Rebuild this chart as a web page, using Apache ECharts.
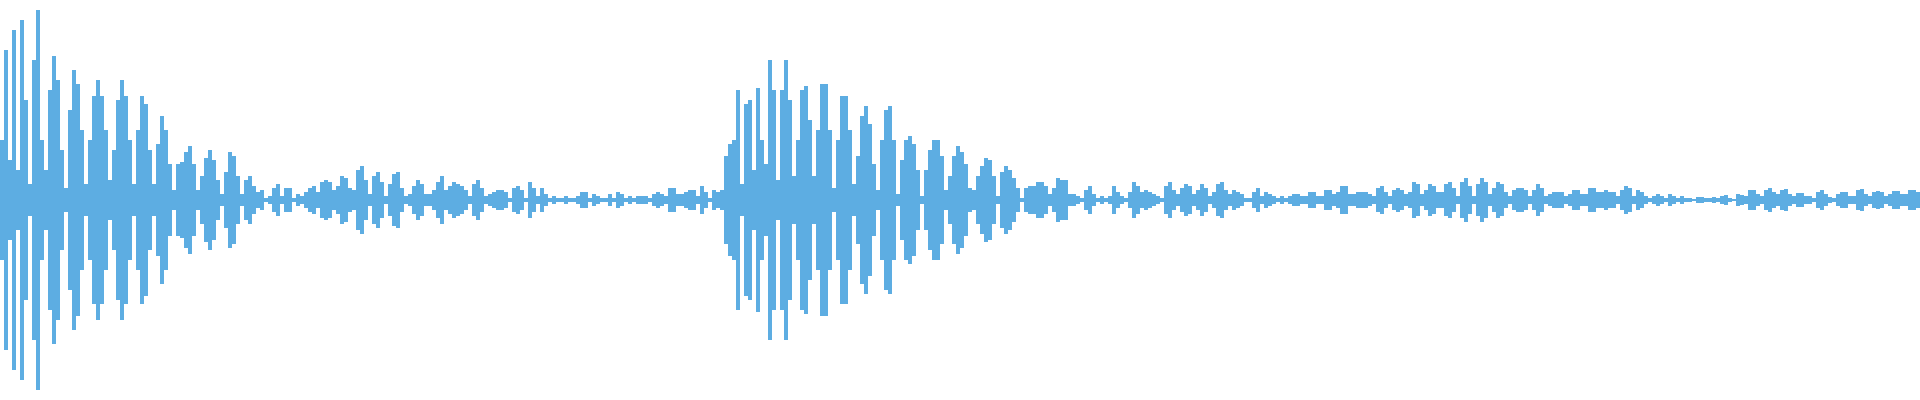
<!DOCTYPE html>
<html>
<head>
<meta charset="utf-8">
<script src="https://cdn.jsdelivr.net/npm/echarts@6/dist/echarts.min.js"></script>
<style>html,body{margin:0;padding:0;background:#fff;}#main{width:1920px;height:400px;}</style>
</head>
<body>
<div id="main"></div>
<script>
// Waveform amplitude (percent of half-height), one value per sample
const ampA = [30,75,20,85,15,90,50,8,70,95,30,15,55,72,60,25,6,45,65,58,35,8,30,52,60,52,35,10,25,50,60,52,30,8,35,52,48,25,8,28,42,35,18,5,18,19,24,27,18,5,12,21,25,20,10,3,14,24,22,12];
const ampB = [3,10,12,7,4,5,1,2,6,8,2,6,6,1,3,2,4,6,7,4,9,10,9,5,7,12,11,6,5,15,17,10,3,12,14,9,2,8,13,14,6,2,3,7,10,8,3,3,5,9,12,5,7,9,8,7,5,2,8,10];
const ampC = [6,2,3,4,5,5,4,1,6,7,5,1,9,6,2,6,3,1,2,1,1,2,1,1,2,4,4,1,3,2,1,1,3,1,4,3,1,2,1,2,2,2,1,3,4,3,2,6,6,3,3,4,5,5,2,7,4,1,5,4];
const ampD = [5,22,28,30,55,8,48,50,15,56,30,18,70,55,10,55,70,50,12,30,55,57,40,12,35,58,58,35,6,30,52,52,35,8,22,42,47,38,18,5,30,45,47,30,3,20,30,32,28,15,2,15,25,30,30,22,5,12,22,27];
const ampE = [24,18,6,5,12,17,21,20,12,2,14,17,15,11,6,1,6,7,7,9,9,7,3,6,11,10,10,3,3,2,1,5,7,3,1,2,1,2,7,4,2,1,4,9,7,4,5,4,3,2,1,7,9,5,3,6,8,7,3,5];
const ampF = [8,6,2,4,8,9,5,3,5,4,3,1,1,4,6,2,4,3,2,1,2,1,2,3,3,2,2,4,4,2,2,5,5,3,4,7,7,3,3,4,4,4,3,2,6,7,4,2,5,6,5,3,4,9,8,3,5,8,7,4];
const ampG = [4,8,9,6,2,9,11,7,2,8,11,9,3,6,9,8,4,2,5,6,6,5,2,5,8,6,2,3,4,4,4,2,3,5,5,3,3,6,6,4,4,5,4,4,2,5,7,6,2,5,4,2,1,2,3,2,1,3,2,1];
const ampH = [2,1,1,0.5,1.5,1.5,1,1,1.5,1,2,2.5,1,0.5,3,2.5,2,5,5,3,2,5,6,4,3,5,5.5,3,2,3.5,3.5,2,2,1,4,5,3,1.5,1,3,4,4,2,2,5,5.5,3,2,4,4.5,4,2,3,4.5,4.5,3,3,5,5,4];

const amplitude = [].concat(ampA, ampB, ampC, ampD, ampE, ampF, ampG, ampH);
const samples = amplitude.map((_, i) => String(i));
const upper = amplitude;
const lower = amplitude.map(v => -v);

const color = '#5dade2';
const chart = echarts.init(document.getElementById('main'));
chart.setOption({
  animation: false,
  grid: { left: 0, right: 0, top: 0, bottom: 0 },
  xAxis: { type: 'category', data: samples, show: false, boundaryGap: true },
  yAxis: { type: 'value', min: -100, max: 100, show: false },
  series: [
    { type: 'bar', data: upper, barWidth: '100%', barGap: '-100%', itemStyle: { color: color } },
    { type: 'bar', data: lower, barWidth: '100%', barGap: '-100%', itemStyle: { color: color } }
  ]
});
</script>
</body>
</html>
